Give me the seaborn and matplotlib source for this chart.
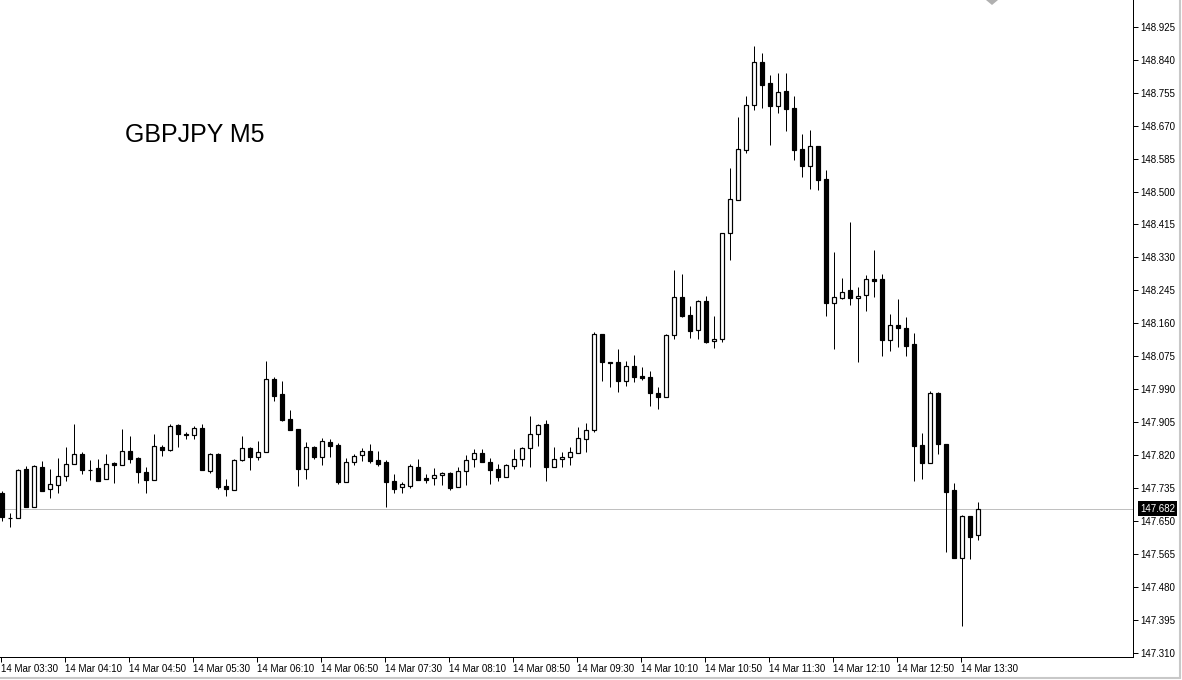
import numpy as np
import pandas as pd
import matplotlib
matplotlib.use("Agg")
import matplotlib.pyplot as plt
import seaborn as sns
from matplotlib.lines import Line2D
from matplotlib.patches import Polygon

symbol_title = "GBPJPY M5"

opens = [147.723, 147.658, 147.658, 147.784, 147.686, 147.790, 147.733, 147.743, 147.766, 147.797,
         147.823, 147.782, 147.787, 147.759, 147.800, 147.795, 147.831, 147.813, 147.777, 147.756,
         147.841, 147.833, 147.898, 147.874, 147.872, 147.890, 147.779, 147.823, 147.741, 147.730,
         147.808, 147.839, 147.815, 147.828, 148.017, 147.978, 147.913, 147.888, 147.784, 147.841,
         147.815, 147.854, 147.846, 147.751, 147.802, 147.821, 147.831, 147.808, 147.802, 147.754,
         147.738, 147.741, 147.790, 147.761, 147.761, 147.769, 147.774, 147.738, 147.779, 147.810,
         147.826, 147.802, 147.784, 147.764, 147.792, 147.810, 147.839, 147.875, 147.900, 147.790,
         147.810, 147.815, 147.826, 147.862, 147.885, 148.133, 148.060, 148.060, 148.011, 148.050,
         148.024, 148.022, 147.980, 147.970, 148.130, 148.228, 148.182, 148.143, 148.218, 148.115,
         148.120, 148.393, 148.478, 148.607, 148.723, 148.834, 148.780, 148.720, 148.759, 148.715,
         148.610, 148.566, 148.617, 148.532, 148.212, 148.225, 148.246, 148.225, 148.233, 148.274,
         148.274, 148.117, 148.156, 148.148, 148.107, 147.846, 147.800, 147.980, 147.849, 147.730,
         147.555, 147.663, 147.614]

highs = [147.728, 147.671, 147.784, 147.792, 147.795, 147.805, 147.784, 147.813, 147.841, 147.900,
         147.828, 147.808, 147.810, 147.823, 147.802, 147.888, 147.870, 147.815, 147.790, 147.875,
         147.846, 147.900, 147.900, 147.880, 147.895, 147.900, 147.826, 147.826, 147.759, 147.810,
         147.870, 147.841, 147.857, 148.063, 148.022, 148.011, 147.937, 147.888, 147.854, 147.844,
         147.864, 147.862, 147.851, 147.813, 147.823, 147.839, 147.849, 147.831, 147.808, 147.772,
         147.751, 147.797, 147.810, 147.772, 147.787, 147.777, 147.777, 147.790, 147.821, 147.836,
         147.836, 147.813, 147.797, 147.797, 147.836, 147.841, 147.921, 147.900, 147.911, 147.841,
         147.828, 147.841, 147.893, 147.903, 148.138, 148.133, 148.060, 148.094, 148.063, 148.078,
         148.048, 148.037, 147.996, 148.133, 148.298, 148.287, 148.205, 148.220, 148.231, 148.179,
         148.393, 148.561, 148.692, 148.746, 148.875, 148.857, 148.800, 148.806, 148.806, 148.746,
         148.648, 148.659, 148.617, 148.555, 148.344, 148.277, 148.421, 148.254, 148.285, 148.349,
         148.287, 148.184, 148.223, 148.176, 148.135, 147.877, 147.986, 147.983, 147.849, 147.748,
         147.666, 147.663, 147.699]

lows = [147.650, 147.635, 147.658, 147.686, 147.686, 147.728, 147.710, 147.723, 147.754, 147.797,
        147.772, 147.756, 147.754, 147.759, 147.748, 147.795, 147.800, 147.748, 147.723, 147.756,
        147.818, 147.831, 147.841, 147.862, 147.862, 147.782, 147.774, 147.733, 147.715, 147.730,
        147.805, 147.782, 147.808, 147.828, 147.960, 147.908, 147.885, 147.741, 147.759, 147.810,
        147.795, 147.815, 147.746, 147.751, 147.795, 147.805, 147.800, 147.792, 147.686, 147.723,
        147.723, 147.735, 147.756, 147.748, 147.743, 147.743, 147.730, 147.738, 147.743, 147.790,
        147.802, 147.746, 147.754, 147.764, 147.784, 147.792, 147.790, 147.844, 147.754, 147.790,
        147.790, 147.795, 147.826, 147.828, 147.880, 148.011, 147.996, 147.983, 147.999, 148.009,
        148.014, 147.947, 147.939, 147.970, 148.120, 148.177, 148.123, 148.120, 148.110, 148.096,
        148.112, 148.323, 148.478, 148.599, 148.710, 148.715, 148.620, 148.702, 148.656, 148.581,
        148.537, 148.506, 148.504, 148.179, 148.094, 148.223, 148.207, 148.060, 148.192, 148.228,
        148.076, 148.089, 148.099, 148.076, 147.754, 147.759, 147.800, 147.823, 147.570, 147.555,
        147.380, 147.552, 147.601]

closes = [147.661, 147.659, 147.782, 147.686, 147.792, 147.728, 147.746, 147.766, 147.797, 147.823,
          147.782, 147.782, 147.754, 147.797, 147.795, 147.831, 147.810, 147.777, 147.756, 147.844,
          147.833, 147.895, 147.875, 147.873, 147.890, 147.782, 147.823, 147.738, 147.733, 147.808,
          147.839, 147.815, 147.828, 148.017, 147.973, 147.911, 147.885, 147.784, 147.841, 147.815,
          147.857, 147.844, 147.751, 147.802, 147.818, 147.831, 147.805, 147.797, 147.751, 147.733,
          147.746, 147.792, 147.756, 147.756, 147.769, 147.774, 147.735, 147.779, 147.808, 147.826,
          147.802, 147.782, 147.764, 147.795, 147.810, 147.839, 147.875, 147.898, 147.790, 147.810,
          147.815, 147.828, 147.864, 147.885, 148.133, 148.060, 148.058, 148.011, 148.050, 148.022,
          148.019, 147.980, 147.970, 148.130, 148.228, 148.179, 148.140, 148.218, 148.112, 148.120,
          148.393, 148.481, 148.610, 148.723, 148.834, 148.775, 148.720, 148.757, 148.713, 148.607,
          148.566, 148.617, 148.530, 148.212, 148.228, 148.241, 148.225, 148.231, 148.274, 148.269,
          148.117, 148.156, 148.148, 148.102, 147.844, 147.800, 147.980, 147.849, 147.725, 147.555,
          147.663, 147.609, 147.682]

time_labels = ["14 Mar 03:30", "14 Mar 04:10", "14 Mar 04:50", "14 Mar 05:30", "14 Mar 06:10",
               "14 Mar 06:50", "14 Mar 07:30", "14 Mar 08:10", "14 Mar 08:50", "14 Mar 09:30",
               "14 Mar 10:10", "14 Mar 10:50", "14 Mar 11:30", "14 Mar 12:10", "14 Mar 12:50",
               "14 Mar 13:30"]
bars_per_label = 8

price_ticks = [147.310, 147.395, 147.480, 147.565, 147.650, 147.735, 147.820, 147.905, 147.990,
               148.075, 148.160, 148.245, 148.330, 148.415, 148.500, 148.585, 148.670, 148.755,
               148.840, 148.925]
last_price = 147.682

sns.set_theme(style="white")
plt.rcParams["font.family"] = ["Liberation Sans", "DejaVu Sans"]

df = pd.DataFrame({"open": opens, "high": highs, "low": lows, "close": closes})
df["idx"] = np.arange(len(df))
df["bull"] = df["close"] >= df["open"]
df["body_lo"] = df[["open", "close"]].min(axis=1)
df["body_h"] = (df["close"] - df["open"]).abs()

W, H = 1182, 680
fig = plt.figure(figsize=(W / 100, H / 100), dpi=100, facecolor="white")
ax = fig.add_axes([0, 23 / H, 1133 / W, 657 / H])
ax.set_facecolor("white")

LW = 0.72  # one pixel

# current price line
ax.axhline(last_price, color="#c0c0c0", lw=LW, zorder=1)

# wicks
ax.vlines(df["idx"], df["low"], df["high"], color="black", lw=LW, zorder=2)
# bodies
face = np.where(df["bull"], "white", "black")
ax.bar(df["idx"], df["body_h"], bottom=df["body_lo"], width=0.55, color=face,
       edgecolor="black", linewidth=LW * 1.2, zorder=3)

ax.set_xlim(-0.25, 141.375)
ax.set_ylim(147.2997, 148.9939)

for s in ["left", "top"]:
    ax.spines[s].set_visible(False)
for s in ["right", "bottom"]:
    ax.spines[s].set_visible(True)
    ax.spines[s].set_color("black")
    ax.spines[s].set_linewidth(LW)

ax.grid(False)
ax.yaxis.tick_right()
ax.set_yticks(price_ticks)
ax.set_yticklabels([f"{v:.3f}" for v in price_ticks])
ax.tick_params(axis="y", direction="out", length=3.5, width=LW, pad=2,
               labelsize=7, colors="black", right=True, left=False)

xt = np.arange(len(time_labels)) * bars_per_label - 0.1
ax.set_xticks(xt)
ax.set_xticklabels(time_labels, ha="left")
ax.tick_params(axis="x", direction="out", length=3.5, width=LW, pad=1.5,
               labelsize=7, colors="black", bottom=True)

# current price tag
ax.text(1.0 + 7 / 1133, last_price, f"{last_price:.3f}", transform=ax.get_yaxis_transform(),
        ha="left", va="center", fontsize=7, color="white", clip_on=False, zorder=10,
        bbox=dict(boxstyle="square,pad=0.25", fc="black", ec="none"))

# symbol title
fig.text(125 / W, 1 - 142 / H, symbol_title, fontsize=18, ha="left", va="baseline",
         color="black")

# window frame and chart-shift marker
fig.add_artist(Line2D([1180 / W, 1180 / W], [2 / H, 1], color="#c8c8c8", lw=1.5))
fig.add_artist(Line2D([0, 1180 / W], [2 / H, 2 / H], color="#c8c8c8", lw=1.5))
fig.add_artist(Polygon([[986 / W, 1], [998 / W, 1], [992 / W, 1 - 5 / H]], closed=True,
                       transform=fig.transFigure, fc="#b0b0b0", ec="none"))

fig.savefig("out.png", dpi=100, facecolor="white")
